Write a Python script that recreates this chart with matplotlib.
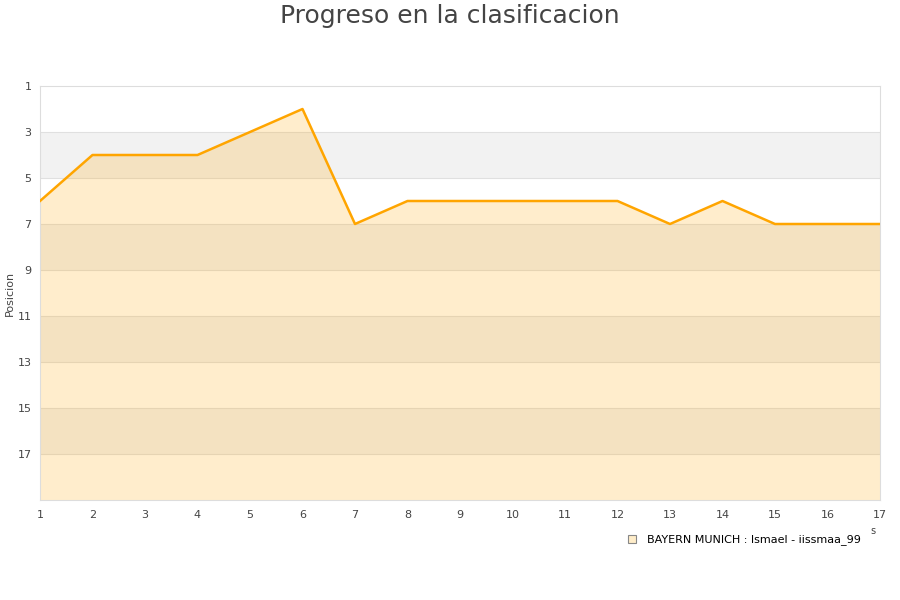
import matplotlib
matplotlib.use("Agg")
import matplotlib.pyplot as plt
from matplotlib.lines import Line2D

jornadas = list(range(1, 18))
posicion = [6, 4, 4, 4, 3, 2, 7, 6, 6, 6, 6, 6, 7, 6, 7, 7, 7]
y_ticks = [1, 3, 5, 7, 9, 11, 13, 15, 17]
serie = "BAYERN MUNICH : Ismael - iissmaa_99"
titulo = "Progreso en la clasificacion"

fig = plt.figure(figsize=(9, 6), dpi=100)
ax = fig.add_axes([40/900, 100/600, 840/900, 414/600])

# alternating bands
for lo in range(3, 19, 4):
    ax.axhspan(lo, lo + 2, color="#f2f2f2", zorder=0, lw=0)
for t in y_ticks[1:]:
    ax.axhline(t, color="#e0e0e0", lw=0.8, zorder=1)

ax.fill_between(jornadas, posicion, 19, color="#ffa500", alpha=0.2, lw=0, zorder=2)
ax.plot(jornadas, posicion, color="#ffa500", lw=1.8, zorder=3)

ax.set_xlim(1, 17)
ax.set_ylim(19, 1)
ax.set_xticks(jornadas)
ax.set_yticks(y_ticks)
ax.tick_params(axis="both", length=0, labelsize=8, colors="#444444", pad=6)
ax.tick_params(axis="x", pad=7)
for s in ax.spines.values():
    s.set_color("#dddddd")
    s.set_linewidth(0.8)
ax.set_ylabel("Posicion", fontsize=8, color="#444444", labelpad=2)

fig.text(0.5, 1 - 16/600, titulo, ha="center", va="center", fontsize=18, color="#444444")
fig.text(873/900, 1 - 531/600, "s", ha="center", va="center", fontsize=7, color="#444444")

h = Line2D([], [], marker="s", linestyle="none", markersize=6,
           markerfacecolor="#ffedc9", markeredgecolor="#888888", markeredgewidth=0.8)
fig.legend([h], [serie], loc="center", bbox_to_anchor=(741/900, 1 - 540/600),
           frameon=False, fontsize=8, handletextpad=0.4, borderpad=0)

fig.savefig("out.png", dpi=100)
